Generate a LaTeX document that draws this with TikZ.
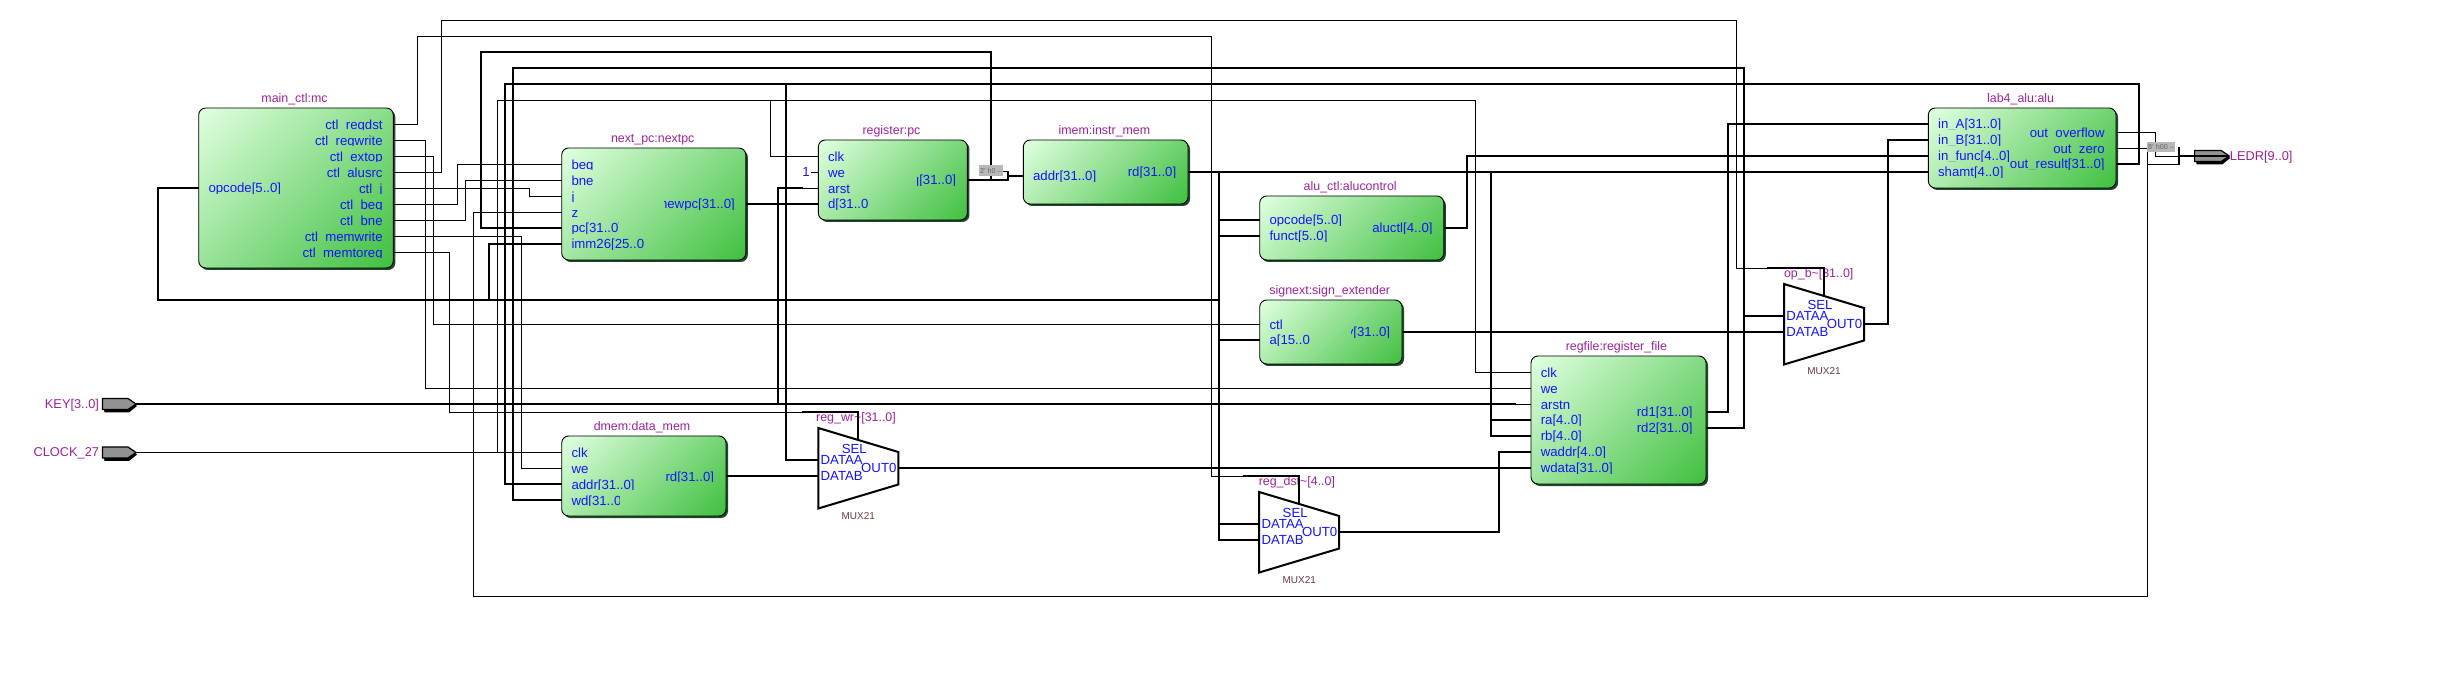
\documentclass[tikz,border=0pt]{standalone}
\usepackage{fontspec}
\setmainfont{Liberation Sans}
\usetikzlibrary{shadows}
\definecolor{lblblue}{HTML}{1414FF}
\definecolor{ttlpurple}{HTML}{A0209A}
\definecolor{muxbrown}{HTML}{6A3A3A}
\definecolor{gradA}{HTML}{E0FFE0}
\definecolor{gradB}{HTML}{40C040}
\definecolor{shadowgreen}{HTML}{1E4A2A}
\definecolor{pingray}{HTML}{929292}
\definecolor{constgray}{HTML}{B8B8B8}
\pgfdeclareverticalshading{diagG}{100bp}{color(0bp)=(gradB); color(15bp)=(gradB); color(85bp)=(gradA); color(100bp)=(gradA)}
\tikzset{
  x=0.5pt,y=-0.5pt,
  sigw/.style={line width=0.5pt,draw=black},
  busw/.style={line width=1pt,draw=black},
  lbl/.style={inner sep=0pt,text=lblblue,font=\fontsize{6.6pt}{7pt}\selectfont},
  ttl/.style={inner sep=0pt,text=ttlpurple,font=\fontsize{6.2pt}{7pt}\selectfont,anchor=base},
  muxname/.style={inner sep=0pt,text=muxbrown,font=\fontsize{5pt}{6pt}\selectfont,anchor=base},
  pinlbl/.style={inner sep=0pt,text=ttlpurple,font=\fontsize{6.4pt}{7pt}\selectfont},
  blockbox/.style={draw=black,line width=0.45pt,rounded corners=3.5pt,inner sep=0pt,
    shading=diagG,shading angle=45,
    general shadow={shadow xshift=1pt,shadow yshift=-1pt,fill=shadowgreen}},
  constbox/.style={fill=constgray,inner sep=0pt,text=black!60,font=\fontsize{3.6pt}{4pt}\selectfont},
}
% name, x1, y1, x2, y2, title, title x
\newcommand\blk[7]{%
  \node[blockbox,minimum width={(#4-#2)*0.5pt},minimum height={(#5-#3)*0.5pt}] (#1) at ({(#2+#4)/2},{(#3+#5)/2}) {};
  \node[ttl] (#1-title) at (#7,{#3-5.5}) {#6};}
% left port: name, box x, y, text, clip width
\newcommand\lp[5]{%
  \coordinate (#1) at (#2,#3);
  \begin{scope}\clip ({#2+8},{#3-12}) rectangle ({#2+9.4+#5},{#3+5.4});
  \node[lbl,anchor=base west] (#1-t) at ({#2+9.4},{#3+5}) {#4};\end{scope}}
% right port: name, box x, y, text, clip width, inset
\newcommand\rp[6]{%
  \coordinate (#1) at (#2,#3);
  \begin{scope}\clip ({#2-#6-#5},{#3-12}) rectangle ({#2-#6+1},{#3+5.4});
  \node[lbl,anchor=base east] (#1-t) at ({#2-#6},{#3+5}) {#4};\end{scope}}
% mux: name, left x, top y, title, title x, title baseline y
\newcommand\muxblk[6]{%
  \draw[line width=1pt,fill=white,line join=miter] (#2,#3) -- ({#2+80},{#3+24}) -- ({#2+80},{#3+56.5}) -- ({#2},{#3+80.5}) -- cycle;
  \coordinate (#1-sel) at ({#2+40},{#3+12});
  \coordinate (#1-a) at (#2,{#3+32});
  \coordinate (#1-b) at (#2,{#3+48});
  \coordinate (#1-out) at ({#2+80},{#3+40});
  \node[lbl,anchor=base] (#1-tsel) at ({#2+36},{#3+25.5}) {SEL};
  \node[lbl,anchor=base west] (#1-ta) at ({#2+2},{#3+36.8}) {DATAA};
  \node[lbl,anchor=base west] (#1-tb) at ({#2+2},{#3+52.8}) {DATAB};
  \node[lbl,anchor=base east] (#1-to) at ({#2+78.5},{#3+44.8}) {OUT0};
  \node[ttl] (#1-title) at (#5,#6) {#4};
  \node[muxname] (#1-kind) at ({#2+40},{#3+91}) {MUX21};}
% pin pointing right: name (tip), left x, top y, tip x, bottom y
\newcommand\pinshape[5]{%
  \fill[black] ({#2},{#3+1}) -- ({#4-7},{#3+1}) -- ({#4+1},{(#3+#5)/2+2}) -- ({#4-7},{#5+3}) -- ({#2+2},{#5+3}) -- cycle;
  \draw[black,line width=0.6pt,fill=pingray] (#2,#3) -- ({#4-8},#3) -- (#4,{(#3+#5)/2}) -- ({#4-8},#5) -- (#2,#5) -- cycle;
  \coordinate (#1) at (#4,{(#3+#5)/2});}
\begin{document}
\begin{tikzpicture}
\useasboundingbox (0,0) rectangle (2452,673);
% blocks
\blk{mc}{198.7}{108}{393.3}{268}{main\_ctl:mc}{294.5}
\lp{mc-opcode}{198.7}{188}{opcode[5..0]}{80}
\rp{mc-regdst}{393.3}{124.5}{ctl\_regdst}{120}{10.3}
\rp{mc-regwrite}{393.3}{140.5}{ctl\_regwrite}{120}{10.3}
\rp{mc-extop}{393.3}{156.5}{ctl\_extop}{120}{10.3}
\rp{mc-alusrc}{393.3}{172.5}{ctl\_alusrc}{120}{10.3}
\rp{mc-i}{393.3}{188.5}{ctl\_j}{120}{10.3}
\rp{mc-beq}{393.3}{204.5}{ctl\_beq}{120}{10.3}
\rp{mc-bne}{393.3}{220.5}{ctl\_bne}{120}{10.3}
\rp{mc-memwrite}{393.3}{236.5}{ctl\_memwrite}{120}{10.3}
\rp{mc-memtoreg}{393.3}{252.5}{ctl\_memtoreg}{120}{10.3}

\blk{np}{561.7}{148}{745.8}{260}{next\_pc:nextpc}{652.7}
\lp{np-beq}{561.7}{164.5}{beq}{60}
\lp{np-bne}{561.7}{180.5}{bne}{60}
\lp{np-j}{561.7}{196.5}{j}{60}
\lp{np-z}{561.7}{212.5}{z}{60}
\lp{np-pc}{561.7}{228}{pc[31..0]}{47.8}
\lp{np-imm}{561.7}{244}{imm26[25..0]}{72}
\rp{np-new}{745.8}{204}{newpc[31..0]}{71}{10.5}

\blk{pc}{818.3}{140}{967.4}{220}{register:pc}{891.5}
\lp{pc-clk}{818.3}{156.5}{clk}{60}
\lp{pc-we}{818.3}{172.5}{we}{60}
\lp{pc-arst}{818.3}{188.5}{arst}{60}
\lp{pc-d}{818.3}{204}{d[31..0]}{40}
\rp{pc-q}{967.4}{180}{q[31..0]}{39}{11}

\blk{im}{1023.3}{140}{1188}{204}{imem:instr\_mem}{1104.4}
\lp{im-addr}{1023.3}{176}{addr[31..0]}{80}
\rp{im-rd}{1188}{172}{rd[31..0]}{80}{11.4}

\blk{ac}{1259.7}{196}{1443.8}{260}{alu\_ctl:alucontrol}{1350.2}
\lp{ac-op}{1259.7}{220}{opcode[5..0]}{80}
\lp{ac-fn}{1259.7}{236}{funct[5..0]}{80}
\rp{ac-out}{1443.8}{228}{aluctl[4..0]}{80}{10.9}

\blk{sx}{1259.7}{300}{1402}{364}{signext:sign\_extender}{1329.8}
\lp{sx-ctl}{1259.7}{324.5}{ctl}{40}
\lp{sx-a}{1259.7}{340}{a[15..0]}{40}
\rp{sx-y}{1402}{332}{y[31..0]}{39}{11.5}

\blk{rf}{1531}{356}{1706}{484}{regfile:register\_file}{1616.4}
\lp{rf-clk}{1531}{372.5}{clk}{60}
\lp{rf-we}{1531}{388.5}{we}{60}
\lp{rf-arstn}{1531}{404.5}{arstn}{60}
\lp{rf-ra}{1531}{420}{ra[4..0]}{60}
\lp{rf-rb}{1531}{436}{rb[4..0]}{60}
\lp{rf-waddr}{1531}{452}{waddr[4..0]}{80}
\lp{rf-wdata}{1531}{468}{wdata[31..0]}{80}
\rp{rf-rd1}{1706}{412}{rd1[31..0]}{70}{13}
\rp{rf-rd2}{1706}{428}{rd2[31..0]}{70}{13}

\blk{alu}{1928.3}{108}{2116}{188}{lab4\_alu:alu}{2020.6}
\lp{alu-a}{1928.3}{124}{in\_A[31..0]}{80}
\lp{alu-b}{1928.3}{140}{in\_B[31..0]}{80}
\lp{alu-func}{1928.3}{156}{in\_func[4..0]}{80}
\lp{alu-shamt}{1928.3}{172}{shamt[4..0]}{80}
\rp{alu-ovf}{2116}{132.5}{out\_overflow}{100}{11}
\rp{alu-zero}{2116}{148.5}{out\_zero}{100}{11}
\rp{alu-res}{2116}{164}{out\_result[31..0]}{100}{11}

\blk{dm}{561.7}{436}{726}{516}{dmem:data\_mem}{642}
\lp{dm-clk}{561.7}{452.5}{clk}{60}
\lp{dm-we}{561.7}{468.5}{we}{60}
\lp{dm-addr}{561.7}{484}{addr[31..0]}{80}
\lp{dm-wd}{561.7}{500}{wd[31..0]}{48.6}
\rp{dm-rd}{726}{476}{rd[31..0]}{80}{11.6}

% muxes
\muxblk{bm}{1784}{284}{op\_b\textasciitilde[31..0]}{1818.7}{277.5}
\muxblk{wm}{818.3}{428}{reg\_wr\textasciitilde[31..0]}{856}{421.5}
\muxblk{dx}{1259.2}{492}{reg\_dst\textasciitilde[4..0]}{1296.9}{485.5}

% pins
\pinshape{keypin}{102.5}{398.5}{136}{409.5}
\pinshape{clockpin}{102.5}{447}{136}{458}
\pinshape{ledrpin}{2194.6}{150.5}{2229.2}{161.5}
\node[pinlbl,anchor=base east] (keylbl) at (99.4,408.5) {KEY[3..0]};
\node[pinlbl,anchor=base east] (clocklbl) at (99.4,456.5) {CLOCK\_27};
\node[pinlbl,anchor=base west] (ledrlbl) at (2229.5,160.5) {LEDR[9..0]};

% named bus rails
\coordinate (rail1) at (1219,172);
\coordinate (rail2) at (1491,172);

% thin nets
\draw[sigw] (mc-regdst) -| (417.5,36.5) -| (1211.5,476.5) -- (1242.5,476.5);
\draw[sigw] (mc-regwrite) -| (425.5,388.5) -- (rf-we);
\draw[sigw] (mc-extop) -| (433.5,324.5) -- (sx-ctl);
\draw[sigw] (mc-alusrc) -| (441.5,20.5) -| (1736.5,268.5) -- (1767,268.5);
\draw[sigw] (mc-i) -| (529.5,196.5) -- (np-j);
\draw[sigw] (mc-beq) -| (457.5,164.5) -- (np-beq);
\draw[sigw] (mc-bne) -| (465.5,180.5) -- (np-bne);
\draw[sigw] (mc-memwrite) -| (521.5,468.5) -- (dm-we);
\draw[sigw] (mc-memtoreg) -| (449.5,412.5) -- (801.8,412.5);
\draw[sigw] (np-z) -| (473.5,596.5) -| (2147.5,148.5) -- (alu-zero);
\draw[sigw] (2147.5,164.5) -- (2179,164.5);
\draw[sigw] (alu-ovf) -| (2155.5,156.5) -- (2179,156.5);
\draw[sigw] (clockpin) -- (dm-clk);
\draw[sigw] (497.5,452.5) -- (497.5,100.5) -- (1475.5,100.5) |- (rf-clk);
\draw[sigw] (770.5,100.5) |- (pc-clk);
\draw[sigw] (1515.5,404.5) -- (rf-arstn);
\draw[sigw] (802.8,188.5) -- (pc-arst);
\node[lbl,anchor=base] (one) at (806,177) {1};
\draw[sigw] (811,172.5) -- (pc-we);
\draw[sigw] (1002.9,171.5) -- (1008,171.5);

% thick nets
\draw[busw] (1242.5,476) -| (dx-sel);
\draw[busw] (1767,268) -| (bm-sel);
\draw[busw] (801.8,412) -| (wm-sel);
\draw[busw] (mc-opcode) -| (158,300) -- (rail1 |- 0,300);
\draw[busw] (np-imm) -| (489,300);
\draw[busw] (im-rd) -- (alu-shamt);
\draw[busw] (rail1) |- (dx-b);
\draw[busw] (rail1 |- ac-op) -- (ac-op);
\draw[busw] (rail1 |- ac-fn) -- (ac-fn);
\draw[busw] (rail1 |- sx-a) -- (sx-a);
\draw[busw] (rail1 |- dx-a) -- (dx-a);
\draw[busw] (rail2) |- (rf-rb);
\draw[busw] (rail2 |- rf-ra) -- (rf-ra);
\draw[busw] (alu-res) -| (2139,84) -| (505,484) -- (dm-addr);
\draw[busw] (786,84) |- (wm-a);
\draw[busw] (dm-wd) -| (513,68) -| (1744,428) -- (rf-rd2);
\draw[busw] (1744,316) -- (bm-a);
\draw[busw] (np-pc) -| (481,52) -| (991,180);
\draw[busw] (pc-q) -- (1008,180) -- (1008,171);
\draw[busw] (1008,176) -- (im-addr);
\draw[busw] (keypin) -- (1515.5,404);
\draw[busw] (778,404) |- (802.8,188);
\draw[busw] (np-new) -- (pc-d);
\draw[busw] (ac-out) -| (1467,156) -- (alu-func);
\draw[busw] (sx-y) -- (bm-b);
\draw[busw] (rf-rd1) -| (1728,124) -- (alu-a);
\draw[busw] (bm-out) -| (1888,140) -- (alu-b);
\draw[busw] (dm-rd) -- (wm-b);
\draw[busw] (wm-out) -- (rf-wdata);
\draw[busw] (dx-out) -| (1499,452) -- (rf-waddr);
\draw[busw] (2179,147) -- (2179,165);
\draw[busw] (2179,156) -- (ledrpin);

% constants
\node[constbox,minimum width=12pt,minimum height=5.2pt] (cpc) at (990.9,170.5) {2' h0 --};
\node[constbox,minimum width=14.1pt,minimum height=5pt] (cledr) at (2161,147) {8' h00 --};
\end{tikzpicture}
\end{document}
